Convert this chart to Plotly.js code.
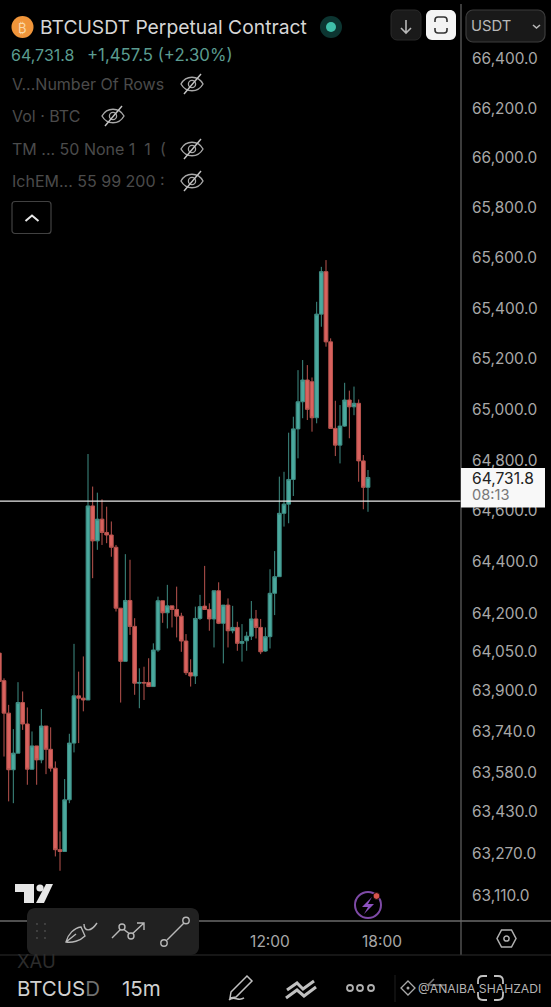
<!DOCTYPE html>
<html><head><meta charset="utf-8">
<script src="https://cdn.plot.ly/plotly-3.0.1.min.js"></script>
<style>html,body{margin:0;padding:0;background:#000;overflow:hidden}#c{width:551px;height:1007px}</style>
</head><body><div id="c"></div>
<script>
const barIndex = Array.from({length:80},(_,i)=>i);
const open = [64045,63938,63812,63593,63657,63853,63770,63595,63685,63631,63762,63672,63599,63285,63278,63477,63696,63879,63870,63863,
64620,64483,64568,64516,64506,64458,64220,64013,64250,64149,63928,63931,63931,63915,64057,64249,64202,64229,64215,64189,
64092,63969,63956,64180,64228,64215,64178,64288,64161,64232,64132,64145,64083,64093,64111,64178,64145,64053,64109,64278,
64343,64591,64627,64724,64923,65030,65116,65109,64967,65377,65546,65267,64925,64859,64934,65037,65010,65024,64797,64693];
const high = [64084,63947,63844,63750,63932,63896,63834,63741,63685,63828,63762,63757,63625,63355,63557,63732,64081,63973,64032,64824,
64696,64672,64646,64617,64559,64467,64220,64431,64409,64181,63986,63992,64025,64083,64265,64249,64311,64229,64304,64202,
64119,64021,64226,64272,64385,64239,64288,64321,64232,64258,64229,64167,64158,64128,64248,64213,64178,64145,64372,64443,
64735,64754,64908,64971,65155,65195,65175,65126,65426,65565,65592,65281,65034,65017,65105,65074,65090,65039,64820,64761];
const low = [63838,63644,63471,63464,63657,63747,63535,63593,63535,63618,63576,63586,63259,63204,63278,63464,63660,63696,63819,63863,
64337,64448,64467,64474,64421,64207,63853,64013,64116,63883,63831,63863,63915,63915,64050,64163,64141,64145,64106,64050,
63960,63915,63925,64174,64215,64132,64067,64158,64005,64067,64122,64054,64012,64054,64096,64102,64041,64050,64063,64193,
64343,64539,64552,64659,64807,64965,64958,64912,64945,65327,65248,64925,64816,64787,64931,64886,64977,64715,64607,64597];
const close = [63935,63812,63593,63657,63853,63770,63595,63685,63631,63762,63672,63599,63285,63278,63477,63696,63879,63870,63863,64620,
64483,64568,64516,64506,64458,64220,64013,64250,64149,63928,63931,63929,63915,64057,64249,64202,64229,64215,64189,64092,
63969,63956,64180,64226,64215,64178,64288,64161,64232,64132,64145,64083,64090,64111,64178,64145,64050,64109,64278,64343,
64591,64627,64724,64923,65030,65116,65000,64967,65377,65546,65267,64925,64859,64934,65037,65010,65024,64797,64693,64731.8];
const priceTicks = [66400,66200,66000,65800,65600,65400,65200,65000,64800,64600,64400,64200,64050,63900,63740,63580,63430,63270,63110];
const priceLabels = ["66,400.0","66,200.0","66,000.0","65,800.0","65,600.0","65,400.0","65,200.0","65,000.0","64,800.0","64,600.0","64,400.0","64,200.0","64,050.0","63,900.0","63,740.0","63,580.0","63,430.0","63,270.0","63,110.0"];
const timeTicks = [58,82];
const timeLabels = ["12:00","18:00"];
const drawnLevel = 64639;

const W=461,H=921,FONT='Inter, "Noto Sans", sans-serif';
const X=x=>x/W, Y=y=>1-y/H;
const P=s=>s.replace(/(-?[\d.]+) (-?[\d.]+)/g,(m,a,b)=>X(+a).toFixed(5)+' '+Y(+b).toFixed(5));
const shapes=[],ann=[];
function path(d,o={}){shapes.push({type:'path',xref:'paper',yref:'paper',path:P(d),layer:'above',
  fillcolor:o.fill||'rgba(0,0,0,0)',line:{color:o.color||'rgba(0,0,0,0)',width:o.w===undefined?1.5:o.w}});}
function rrect(x0,y0,x1,y1,r,o){const k=r*0.45;
  path(`M ${x0+r} ${y0} L ${x1-r} ${y0} C ${x1-k} ${y0} ${x1} ${y0+k} ${x1} ${y0+r} L ${x1} ${y1-r} C ${x1} ${y1-k} ${x1-k} ${y1} ${x1-r} ${y1} L ${x0+r} ${y1} C ${x0+k} ${y1} ${x0} ${y1-k} ${x0} ${y1-r} L ${x0} ${y0+r} C ${x0} ${y0+k} ${x0+k} ${y0} ${x0+r} ${y0} Z`,o);}
function circ(cx,cy,r,o={}){shapes.push({type:'circle',xref:'paper',yref:'paper',layer:'above',
  x0:X(cx-r),x1:X(cx+r),y0:Y(cy+r),y1:Y(cy-r),fillcolor:o.fill||'rgba(0,0,0,0)',line:{color:o.color||'rgba(0,0,0,0)',width:o.w===undefined?1.5:o.w}});}
function text(t,x,y,size,color,anchor='left',extra={}){ann.push(Object.assign({text:t,x:X(x),y:Y(y),xref:'paper',yref:'paper',xanchor:anchor,yanchor:'middle',
  showarrow:false,borderpad:0,font:{family:FONT,size,color}},extra));}
function eye(cx,cy){
  path(`M ${cx-11} ${cy} C ${cx-6} ${cy-9} ${cx+6} ${cy-9} ${cx+11} ${cy} C ${cx+6} ${cy+9} ${cx-6} ${cy+9} ${cx-11} ${cy} Z`,{color:'#a8a8a8',w:1.4});
  circ(cx,cy,3.6,{color:'#a8a8a8',w:1.3});
  path(`M ${cx-8} ${cy+10} L ${cx+9} ${cy-10}`,{color:'#c4c4c4',w:1.4});
}
// frame lines
path('M 461 4 L 461 955',{color:'#5c5c5c',w:1.3});
path('M 0 921 L 551 921',{color:'#6a6a6a',w:1.3});
path('M 0 955 L 551 955',{color:'#2c2c2c',w:1.2});
// header
circ(22.5,27,11,{fill:'#f0953a'});
text('₿',22.5,27.5,13,'#fbd9a8','center');
text('BTCUSDT Perpetual Contract',39,27,19.3,'#d6d6d6');
circ(331,27,11,{fill:'#0c3531'});circ(331,27,5,{fill:'#3fbfa9'});
text('64,731.8',10,55,16,'#5b9c90');
text('+1,457.5 (+2.30%)',86,55,16.8,'#5b9c90');
text('V...Number Of Rows',11,84,16,'#4b4b4b');
text('Vol · BTC',11,116,16,'#4b4b4b');
text('TM ... 50 None 1\u00A0 1\u00A0 (',11,149,16,'#4b4b4b');
text('IchEM... 55 99 200 :',11,181,16,'#4b4b4b');
eye(192,84);eye(113,116);eye(192,149);eye(192,181);
rrect(12,201.5,51,233.5,3,{color:'#414141',w:1.2});
path('M 25.5 221 L 32 215.5 L 38.5 221',{color:'#e8e8e8',w:2});
// top buttons
rrect(391,10,421,40,6,{fill:'#1a1a1a',color:'#2a2a2a',w:1});
path('M 406 20 L 406 33 M 401 28 L 406 33 L 411 28',{color:'#b8b8b8',w:1.6});
rrect(426,10,456,40,6,{fill:'#f4f4f4'});
path('M 435 22 L 435 20 C 435 18 436 17 438 17 L 444 17 C 446 17 447 18 447 20 L 447 22 M 435 28 L 435 30 C 435 32 436 33 438 33 L 444 33 C 446 33 447 32 447 30 L 447 28',{color:'#333',w:1.6});
rrect(466,10,545,42,7,{fill:'#191919',color:'#3c3c3c',w:1.2});
text('USDT',470,26,14.8,'#b8b8b8');
path('M 533 25 L 536.5 28 L 540 25',{color:'#b8b8b8',w:1.6});
// last price tag
path('M 461 468 L 545 468 L 545 507.5 L 461 507.5 Z',{fill:'#f8f8f8'});
text('64,731.8',470.5,478.5,15.6,'#222');
text('08:13',470.5,495,14.6,'#777');
// logo
path('M 15 884 L 34 884 L 34 903 L 24 903 L 24 892 L 15 892 Z',{fill:'#e6e6e6'});
circ(40,888,3.6,{fill:'#e6e6e6',w:0});
path('M 46 884 L 53 884 L 44 903 L 36 903 Z',{fill:'#e6e6e6'});
// toolbar
rrect(27,908,199,955,8,{fill:'#212121'});
[[37,924],[45,924],[37,931],[45,931],[37,938],[45,938]].forEach(p=>circ(p[0],p[1],0.9,{fill:'#4e4e4e',w:0}));
path('M 66 942 C 68 934 74 928 81 927 L 85 936 C 80 941 72 943 66 942 Z M 66 942 L 76 934',{color:'#b8b8b8',w:1.4});
path('M 84 924 C 84 932 91 932 97 923',{color:'#b8b8b8',w:1.4});
path('M 112 938 L 122 928 L 131 935 L 144 923 M 137 923 L 144 923 L 144 930',{color:'#b8b8b8',w:1.4});
circ(122,927,3,{fill:'#212121',color:'#b8b8b8',w:1.4});circ(131,936,3,{fill:'#212121',color:'#b8b8b8',w:1.4});
path('M 167 940 L 184 923',{color:'#b8b8b8',w:1.4});
circ(164,943,3.2,{fill:'#212121',color:'#b8b8b8',w:1.4});circ(186,920.5,3.2,{fill:'#212121',color:'#b8b8b8',w:1.4});
// lightning badge
circ(368,905,13,{color:'#7e4aa6',w:2});
path('M 372 897 L 362 907 L 368 907 L 364 914 L 374 904 L 368 904 Z',{fill:'#8d52c0'});
circ(376.5,896,3.4,{fill:'#d9544f',color:'#000',w:0.8});
// settings hex
path('M 501.5 930 L 511.5 930 L 516 938.5 L 511.5 947 L 501.5 947 L 497 938.5 Z',{color:'#b0b0b0',w:1.5});
circ(506.5,938.5,2.6,{color:'#b0b0b0',w:1.5});
// bottom bar
text('XAU',16,961,18.5,'#2c2c2c');
text('BTCUS<span style="color:#707070">D</span>',16,988,20.5,'#d0d0d0');
text('15m',120.5,988,20.5,'#d0d0d0');
path('M 229 1000 C 234 995 238 1002 244 998 M 231 992 L 247 976 L 252 981 L 236 997 L 230 998 Z',{color:'#c0c0c0',w:1.5});
path('M 287 990 L 297 983 L 303 989 L 314 981 M 286 998 L 297 990 L 304 996 L 316 987',{color:'#c0c0c0',w:3});
circ(350,988,3,{color:'#b0b0b0',w:1.8});circ(360,988,3,{color:'#b0b0b0',w:1.8});circ(371,988,3,{color:'#b0b0b0',w:1.8});
path('M 395 975 L 395 1002',{color:'#1f1f1f',w:1});
path('M 408 981 L 415 988 L 408 995 L 401 988 Z',{color:'#aaa',w:1.3});
circ(408,988,1.5,{fill:'#aaa',w:0});
path('M 428 985 L 434 979 M 428 985 L 446 985',{color:'#777',w:1.5});
path('M 478 984 L 478 981 C 478 978 480 976 483 976 L 487 976 M 494 976 L 498 976 C 501 976 503 978 503 981 L 503 984 M 503 992 L 503 995 C 503 998 501 1000 498 1000 L 494 1000 M 487 1000 L 483 1000 C 480 1000 478 998 478 995 L 478 992',{color:'#c0c0c0',w:1.8});
text('@ANAIBA SHAHZADI',417,988,12.2,'#b4b4b4');

const data=[
 {type:'candlestick',x:barIndex,open,high,low,close,
  increasing:{line:{color:'#3f8d84',width:1},fillcolor:'#4aa99e'},
  decreasing:{line:{color:'#b9544f',width:1},fillcolor:'#d9625e'},
  whiskerwidth:0,showlegend:false,hoverinfo:'skip'},
 {type:'scatter',mode:'lines',x:[0,100],y:[drawnLevel,drawnLevel],line:{color:'#e8e8e8',width:1.4},showlegend:false,hoverinfo:'skip'}
];
const layout={width:551,height:1007,margin:{l:0,r:90,t:0,b:86,pad:0},paper_bgcolor:'#000',plot_bgcolor:'#000',
 showlegend:false,font:{family:FONT},boxgap:0.2,boxgroupgap:0,
 xaxis:{range:[0.143,98.93],rangeslider:{visible:false},showgrid:false,zeroline:false,showline:false,
   tickmode:'array',tickvals:timeTicks,ticktext:timeLabels,ticks:'outside',ticklen:6,tickcolor:'rgba(0,0,0,0)',tickangle:0,
   tickfont:{family:FONT,size:15.5,color:'#a8a8a8'}},
 yaxis:{type:'log',side:'right',range:[4.79942,4.82371],showgrid:false,zeroline:false,showline:false,
   tickmode:'array',tickvals:priceTicks,ticktext:priceLabels,ticks:'outside',ticklen:7,tickcolor:'rgba(0,0,0,0)',
   tickfont:{family:FONT,size:15.4,color:'#a8a8a8'}},
 shapes,annotations:ann};
Plotly.newPlot('c',data,layout,{staticPlot:true,displayModeBar:false});
</script></body></html>
